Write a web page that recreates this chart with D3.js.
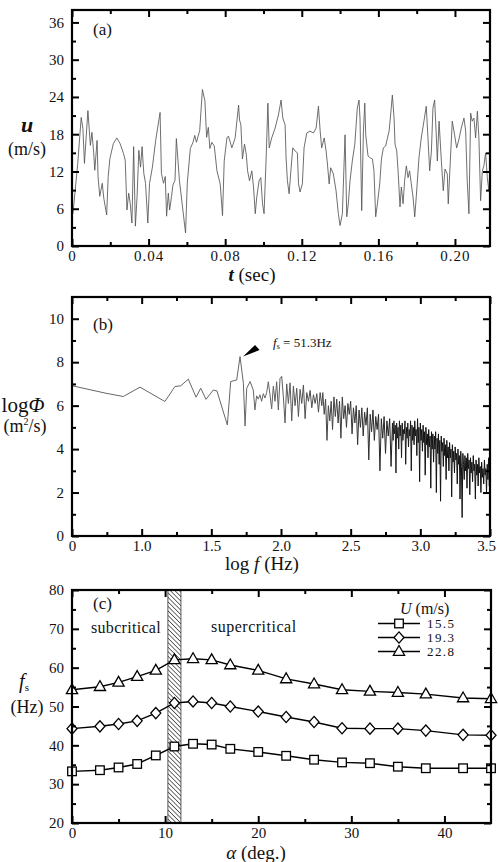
<!DOCTYPE html>
<html><head><meta charset="utf-8">
<script src="https://cdn.jsdelivr.net/npm/d3@7"></script>
<style>
body{margin:0;background:#fff;}
svg text{font-family:"Liberation Serif","Times New Roman",serif;fill:#111;}
</style></head><body>
<svg id="chart" width="498" height="862"></svg>
<script>
// ---------- DATA ----------
// (a) streamwise velocity time history [t (sec), u (m/s)]
const velocitySeries = [[0.0005,5.2],[0.003,13.3],[0.0048,20.7],[0.0057,18.9],[0.0065,13.3],[0.0083,21.8],[0.0096,16.2],[0.0104,18.3],[0.0113,15.1],[0.0119,12.2],[0.0131,17.0],[0.0136,11.2],[0.0145,8.0],[0.0158,10.1],[0.0166,7.7],[0.0181,5.0],[0.0189,11.2],[0.0198,14.1],[0.0216,16.5],[0.0234,17.4],[0.0251,16.5],[0.0269,14.9],[0.0278,13.8],[0.0287,5.8],[0.0296,8.5],[0.0304,6.9],[0.0313,3.7],[0.0322,16.0],[0.0331,3.2],[0.034,8.0],[0.0349,15.4],[0.0358,12.7],[0.0366,16.0],[0.0375,11.7],[0.0384,10.1],[0.0396,3.7],[0.0405,10.1],[0.042,12.7],[0.0437,17.0],[0.046,21.5],[0.0467,11.7],[0.0478,10.1],[0.0487,11.2],[0.0494,4.8],[0.0503,8.5],[0.051,5.8],[0.052,8.0],[0.0527,9.8],[0.0538,10.6],[0.0545,17.3],[0.0561,10.6],[0.0579,5.8],[0.0593,2.1],[0.0602,10.1],[0.0618,15.7],[0.0632,16.7],[0.0641,17.8],[0.065,16.7],[0.0667,18.6],[0.0681,25.2],[0.0694,23.4],[0.0703,17.5],[0.0712,19.1],[0.072,15.7],[0.073,16.7],[0.0743,16.1],[0.0757,12.1],[0.0774,10.0],[0.0786,4.9],[0.0795,13.7],[0.0809,17.4],[0.0817,17.7],[0.0835,15.8],[0.0852,17.4],[0.087,22.7],[0.0875,20.3],[0.0882,19.5],[0.089,14.0],[0.0901,16.4],[0.091,14.8],[0.0917,12.1],[0.0927,10.5],[0.0939,12.1],[0.0948,9.5],[0.0957,5.2],[0.0965,7.9],[0.0977,10.5],[0.0986,11.0],[0.0995,6.8],[0.1003,5.2],[0.1014,14.2],[0.1023,23.0],[0.103,15.8],[0.1043,17.4],[0.1061,19.0],[0.1078,21.1],[0.1092,23.5],[0.1101,20.6],[0.1113,19.5],[0.1118,14.2],[0.1125,10.5],[0.1134,8.4],[0.1143,12.1],[0.1153,15.8],[0.1165,15.3],[0.1177,15.0],[0.1183,10.0],[0.1191,8.7],[0.1203,10.0],[0.1212,15.8],[0.1226,18.2],[0.1243,18.5],[0.1261,18.2],[0.1275,19.0],[0.1287,22.5],[0.1296,18.5],[0.1304,15.8],[0.1317,17.4],[0.1327,15.3],[0.1334,13.2],[0.1343,10.0],[0.1351,12.6],[0.1365,11.6],[0.1379,8.9],[0.1391,5.2],[0.14,3.3],[0.1412,5.2],[0.1426,17.9],[0.1435,4.7],[0.1443,6.8],[0.1452,10.5],[0.1464,13.7],[0.1477,16.4],[0.149,22.2],[0.1499,23.5],[0.1504,20.6],[0.1513,5.7],[0.1522,18.5],[0.1529,23.0],[0.1534,17.9],[0.1546,14.5],[0.1557,14.2],[0.1569,14.0],[0.1577,12.1],[0.1586,4.7],[0.1595,6.8],[0.1607,10.0],[0.1616,14.0],[0.1626,15.8],[0.1638,16.1],[0.1656,18.5],[0.1664,21.1],[0.1673,24.3],[0.1682,20.6],[0.1687,16.4],[0.1696,15.3],[0.1703,12.1],[0.1713,6.3],[0.172,9.5],[0.1729,6.8],[0.1737,10.5],[0.1746,12.9],[0.1755,11.0],[0.1763,12.1],[0.1772,10.0],[0.1781,7.9],[0.179,4.7],[0.1798,7.9],[0.1812,14.2],[0.1824,17.4],[0.1838,20.1],[0.185,22.5],[0.1859,17.4],[0.1868,12.1],[0.1877,15.3],[0.1885,22.2],[0.1894,23.5],[0.1903,17.4],[0.1908,13.7],[0.1917,20.1],[0.1929,13.7],[0.1939,8.9],[0.1948,12.4],[0.196,11.6],[0.1965,6.8],[0.1974,12.6],[0.1986,20.1],[0.1998,17.9],[0.2009,15.8],[0.2021,17.2],[0.2033,19.0],[0.2047,20.6],[0.2056,18.5],[0.2064,10.5],[0.2073,5.2],[0.2082,21.4],[0.209,20.1],[0.2099,20.6],[0.2108,17.4],[0.2117,21.7],[0.2125,17.4],[0.2134,7.3],[0.2143,12.1],[0.2151,12.9],[0.216,15.0],[0.2169,11.0],[0.2177,8.9],[0.2183,12.6]];

// (b) power spectrum [log f, log Phi]
const spectrumSeries = [[0.505,6.91],[0.744,6.57],[0.868,6.42],[0.988,6.85],[1.167,6.19],[1.239,6.88],[1.28,6.91],[1.335,7.22],[1.39,6.39],[1.424,6.8],[1.462,6.29],[1.514,6.72],[1.54,6.68],[1.615,5.11],[1.639,7.11],[1.682,7.18],[1.706,8.26],[1.73,7.03],[1.742,5.06],[1.754,6.8],[1.778,7.11],[1.801,6.72],[1.813,5.8],
[1.825,6.45],[1.837,6.3],[1.849,6.5],[1.861,6.2],[1.873,6.55],[1.885,6.35],[1.897,6.6],[1.909,7.1],[1.921,6.5],[1.933,5.85],[1.945,6.9],[1.957,6.2],[1.969,7.1],[1.981,5.8],[1.993,7.25],[2.005,7.35],[2.017,6.4],[2.029,5.2],[2.041,7.0],[2.053,6.1],[2.065,7.05],[2.077,5.3],[2.089,6.9],[2.101,6.0],[2.113,6.8],[2.125,5.5],[2.137,6.75],[2.149,6.1],[2.161,6.95],[2.173,5.4],[2.185,6.6],[2.197,6.2],[2.209,6.7],[2.221,5.9],[2.233,6.5],[2.245,6.1],[2.257,6.55],[2.269,5.7],[2.281,6.6],[2.293,6.0],
[2.30,6.6],[2.31,5.6],[2.32,6.3],[2.33,4.4],[2.34,6.0],[2.35,5.3],[2.36,6.2],[2.37,4.9],[2.38,6.4],[2.39,5.5],[2.40,6.3],[2.41,5.2],[2.42,6.2],[2.43,4.5],[2.44,6.4],[2.45,5.4],[2.46,6.0],[2.47,5.0],[2.48,6.1],[2.49,5.6],[2.50,6.2],[2.51,4.7],[2.52,5.9],[2.53,5.2],[2.54,6.0],[2.55,4.2],[2.56,5.8],[2.57,5.0],[2.58,5.9],[2.59,4.6],[2.60,5.7],[2.61,5.1],[2.62,5.9],[2.63,3.5],[2.64,5.6],[2.65,4.8],[2.66,5.8],[2.67,4.4],[2.68,5.5],[2.69,4.9],[2.70,5.6],[2.71,3.0],[2.72,5.4],[2.73,4.5],[2.74,5.5],[2.75,3.8],[2.76,5.3],[2.77,4.6],[2.78,5.4],[2.79,3.2],[2.80,5.2],
[2.805,4.4],[2.81,5.3],[2.815,4.7],[2.82,5.1],[2.825,2.9],[2.83,5.2],[2.835,4.5],[2.84,5.0],[2.845,4.0],[2.85,5.3],
[2.855,4.6],[2.86,5.1],[2.865,3.6],[2.87,5.2],[2.875,4.4],[2.88,4.9],[2.885,4.7],[2.89,5.3],[2.895,3.3],[2.90,5.0],
[2.905,4.5],[2.91,5.2],[2.915,4.1],[2.92,4.9],[2.925,4.6],[2.93,5.3],[2.935,3.0],[2.94,5.1],[2.945,4.4],[2.95,5.0],
[2.955,4.2],[2.96,5.3],[2.965,4.6],[2.97,4.9],[2.975,3.7],[2.98,5.4],[2.985,4.3],[2.99,5.0],[2.995,2.5],[3.00,5.2],
[3.005,4.4],[3.01,4.9],[3.015,3.9],[3.02,5.1],[3.025,4.3],[3.03,4.8],[3.035,2.8],[3.04,5.0],[3.045,4.2],[3.05,4.7],
[3.055,3.6],[3.06,4.9],[3.065,4.1],[3.07,4.6],[3.075,2.2],[3.08,4.8],[3.085,4.0],[3.09,4.7],[3.095,3.4],[3.10,4.6],
[3.105,4.0],[3.11,4.8],[3.115,2.0],[3.12,4.5],[3.125,3.8],[3.13,4.7],[3.135,3.3],[3.14,4.4],[3.145,1.6],[3.15,4.6],
[3.155,3.9],[3.16,4.3],[3.165,3.2],[3.17,4.5],[3.175,3.7],[3.18,4.2],[3.185,2.6],[3.19,4.4],[3.195,3.6],[3.20,4.1],
[3.205,3.0],[3.21,4.3],[3.215,3.6],[3.22,4.0],[3.225,1.8],[3.23,4.2],[3.235,3.4],[3.24,3.9],[3.245,2.9],[3.25,4.1],
[3.255,3.5],[3.26,3.8],[3.265,2.4],[3.27,4.0],[3.275,3.3],[3.28,3.7],[3.285,1.7],[3.29,3.9],[3.295,3.2],[3.30,0.85],
[3.305,3.8],[3.31,3.3],[3.315,2.6],[3.32,3.7],[3.325,3.0],[3.33,3.6],[3.335,2.2],[3.34,3.8],[3.345,3.1],[3.35,3.5],
[3.355,1.9],[3.36,3.6],[3.365,2.9],[3.37,3.4],[3.375,2.5],[3.38,3.7],[3.385,3.0],[3.39,3.3],[3.395,1.7],[3.40,3.5],
[3.405,2.8],[3.41,3.3],[3.415,2.3],[3.42,3.6],[3.425,2.9],[3.43,3.2],[3.435,2.0],[3.44,3.4],[3.445,2.7],[3.45,3.1],
[3.455,2.4],[3.46,3.5],[3.465,2.8],[3.47,3.1],[3.475,2.0],[3.48,3.3],[3.485,2.6],[3.49,3.6],[3.495,2.3],[3.50,2.8]];
const spectrumPeak = {logF:1.706, logPhi:8.26, label:"51.3Hz"};

// (c) shedding frequency vs angle
const alphaDeg = [0,3,5,7,9,11,13,15,17,20,23,26,29,32,35,38,42,45];
const fsU155 = [33.3,33.6,34.3,35.2,37.4,39.7,40.4,40.2,39.1,38.3,37.3,36.3,35.6,35.4,34.5,34.1,34.1,34.1];
const fsU193 = [44.3,44.9,45.5,46.3,48.3,50.9,51.3,50.9,50.0,48.7,47.3,46.0,44.4,44.3,44.3,43.8,42.7,42.6];
const fsU228 = [54.3,55.1,56.2,57.7,59.3,62.0,62.3,62.0,60.7,59.3,57.1,55.8,54.3,53.9,53.6,53.2,52.2,52.0];
const legendLabels = ["15.5","19.3","22.8"];
const criticalBand = [10.3,11.7];

// tick values / labels
const aXTicks = [0,0.04,0.08,0.12,0.16,0.20], aXLabels = ["0","0.04","0.08","0.12","0.16","0.20"];
const aXMinor = [0.02,0.06,0.10,0.14,0.18];
const aYTicks = [0,6,12,18,24,30,36], aYMinor = [3,9,15,21,27,33];
const bXTicks = [0.5,1.0,1.5,2.0,2.5,3.0,3.5], bXLabels = ["0","1.0","1.5","2.0","2.5","3.0","3.5"];
const bXMinor = [0.75,1.25,1.75,2.25,2.75,3.25];
const bYTicks = [0,2,4,6,8,10], bYMinor = [1,3,5,7,9];
const cXTicks = [0,10,20,30,40], cXMinor = [5,15,25,35];
const cYTicks = [20,30,40,50,60,70,80], cYMinor = [25,35,45,55,65,75];

// ---------- DRAW ----------
const svg = d3.select("#chart");
const FONT = 15;

function frame(x, y, o){
  const [x0,x1] = x.range(), [y0,y1] = y.range();
  const g = svg.append("g");
  const style = (sel, w) => { sel.select(".domain").remove(); sel.selectAll("line").attr("stroke","#000").attr("stroke-width",w); };
  const bottom = g.append("g").attr("transform",`translate(0,${y0})`)
    .call(d3.axisBottom(x).tickValues(o.xt).tickFormat((d,i)=>o.xl?o.xl[i]:d).tickSize(-7).tickPadding(4))
    .call(s=>style(s,2)).call(s=>s.selectAll("text").attr("font-size",FONT).attr("fill","#111").attr("font-family","Liberation Serif").attr("letter-spacing",o.xls||0));
  if (o.lastDx) bottom.selectAll("text").filter((d,i,n)=>i===n.length-1).attr("dx",o.lastDx);
  g.append("g").attr("transform",`translate(0,${y0})`).call(d3.axisBottom(x).tickValues(o.xm).tickFormat("").tickSize(-4)).call(s=>style(s,2));
  g.append("g").attr("transform",`translate(0,${y1})`).call(d3.axisTop(x).tickValues(o.xt).tickFormat("").tickSize(-7)).call(s=>style(s,2));
  g.append("g").attr("transform",`translate(0,${y1})`).call(d3.axisTop(x).tickValues(o.xm).tickFormat("").tickSize(-4)).call(s=>style(s,2));
  g.append("g").attr("transform",`translate(${x0},0)`)
    .call(d3.axisLeft(y).tickValues(o.yt).tickFormat(d=>d).tickSize(-7).tickPadding(8))
    .call(s=>style(s,2)).call(s=>s.selectAll("text").attr("font-size",FONT).attr("fill","#111").attr("font-family","Liberation Serif"));
  g.append("g").attr("transform",`translate(${x0},0)`).call(d3.axisLeft(y).tickValues(o.ym).tickFormat("").tickSize(-4)).call(s=>style(s,2));
  g.append("g").attr("transform",`translate(${x1},0)`).call(d3.axisRight(y).tickValues(o.yt).tickFormat("").tickSize(-7)).call(s=>style(s,2));
  g.append("g").attr("transform",`translate(${x1},0)`).call(d3.axisRight(y).tickValues(o.ym).tickFormat("").tickSize(-4)).call(s=>style(s,2));
  g.append("rect").attr("x",x0).attr("y",y1).attr("width",x1-x0).attr("height",y0-y1)
    .attr("fill","none").attr("stroke","#000").attr("stroke-width",2.2);
}

function txt(x,y,size,parts,anchor){
  const t = svg.append("text").attr("x",x).attr("y",y).attr("font-size",size).attr("text-anchor",anchor||"start");
  parts.forEach(p=>{
    const ts = t.append("tspan").text(p.t);
    if(p.i) ts.attr("font-style","italic");
    if(p.b) ts.attr("font-weight","bold");
    if(p.s) ts.attr("font-size",p.s);
    if(p.dy) ts.attr("dy",p.dy);
  });
  return t;
}

// ---- Panel (a) ----
const xA = d3.scaleLinear().domain([0,0.2183]).range([72,490]);
const yA = d3.scaleLinear().domain([0,38]).range([246,10]);
svg.append("path").datum(velocitySeries)
  .attr("d", d3.line().x(d=>xA(d[0])).y(d=>yA(d[1])))
  .attr("fill","none").attr("stroke","#555").attr("stroke-width",0.85).attr("stroke-linejoin","round");
frame(xA,yA,{xt:aXTicks,xl:aXLabels,xm:aXMinor,yt:aYTicks,ym:aYMinor,xls:1});
txt(93,35,17,[{t:"(a)"}]);
txt(27,132,22,[{t:"u",i:1,b:1}],"middle");
txt(27,155,18,[{t:"(m/s)"}],"middle");
txt(252,281,19,[{t:"t",i:1,b:1},{t:" (sec)"}],"middle");

// ---- Panel (b) ----
const xB = d3.scaleLinear().domain([0.5,3.5]).range([72,490]);
const yB = d3.scaleLinear().domain([0,11]).range([536,297]);
const grad = svg.append("defs").append("linearGradient").attr("id","specGrad")
  .attr("gradientUnits","userSpaceOnUse").attr("x1",xB(1.9)).attr("x2",xB(3.0)).attr("y1",0).attr("y2",0);
grad.append("stop").attr("offset",0).attr("stop-color","#666");
grad.append("stop").attr("offset",1).attr("stop-color","#111");
svg.append("path").datum(spectrumSeries)
  .attr("d", d3.line().x(d=>xB(d[0])).y(d=>yB(d[1])))
  .attr("fill","none").attr("stroke","url(#specGrad)").attr("stroke-width",1).attr("stroke-linejoin","round");
frame(xB,yB,{xt:bXTicks,xl:bXLabels,xm:bXMinor,yt:bYTicks,ym:bYMinor,lastDx:-4});
txt(93,330,17,[{t:"(b)"}]);
txt(23,412,21,[{t:"log"},{t:"Φ",i:1}],"middle");
txt(25,432,18,[{t:"(m"},{t:"2",s:10,dy:-7},{t:"/s)",dy:7}],"middle");
txt(262,570,19,[{t:"log "},{t:"f",i:1},{t:" (Hz)"}],"middle");
{
  const px = xB(spectrumPeak.logF)+3, py = yB(spectrumPeak.logPhi);
  svg.append("path").attr("d",`M${px},${py} L${px+12},${py-11.5} L${px+16.5},${py-6.5} Z`).attr("fill","#000");
  txt(px+30,py-10,13,[{t:"f",i:1},{t:"s",s:8,dy:2},{t:" = ",dy:-2},{t:spectrumPeak.label}]);
}

// ---- Panel (c) ----
const xC = d3.scaleLinear().domain([0,45]).range([72,491]);
const yC = d3.scaleLinear().domain([20,80]).range([823,590]);
svg.select("defs").append("pattern").attr("id","hatch").attr("patternUnits","userSpaceOnUse")
  .attr("width",3.2).attr("height",3.2).attr("patternTransform","rotate(-45)")
  .append("line").attr("x1",0).attr("y1",0).attr("x2",0).attr("y2",3.2)
  .attr("stroke","#222").attr("stroke-width",1.3);
svg.append("rect").attr("x",xC(criticalBand[0])).attr("y",yC(80)).attr("width",xC(criticalBand[1])-xC(criticalBand[0]))
  .attr("height",yC(20)-yC(80)).attr("fill","url(#hatch)").attr("stroke","#333").attr("stroke-width",0.8);

const symbols = {
  square: (g,cx,cy)=>g.append("rect").attr("x",cx-4.3).attr("y",cy-4.3).attr("width",8.6).attr("height",8.6),
  diamond: (g,cx,cy)=>g.append("path").attr("d",`M${cx},${cy-5.6}L${cx+5},${cy}L${cx},${cy+5.6}L${cx-5},${cy}Z`),
  triangle: (g,cx,cy)=>g.append("path").attr("d",`M${cx},${cy-6}L${cx+5.6},${cy+3.8}L${cx-5.6},${cy+3.8}Z`)
};
const seriesC = [{v:fsU155,sym:"square"},{v:fsU193,sym:"diamond"},{v:fsU228,sym:"triangle"}];
const gC = svg.append("g");
seriesC.forEach(s=>{
  gC.append("path").datum(alphaDeg.map((a,i)=>[a,s.v[i]]))
    .attr("d",d3.line().x(d=>xC(d[0])).y(d=>yC(d[1])))
    .attr("fill","none").attr("stroke","#000").attr("stroke-width",1.4);
  alphaDeg.forEach((a,i)=>symbols[s.sym](gC,xC(a),yC(s.v[i])).attr("fill","#fff").attr("stroke","#000").attr("stroke-width",1.3));
});
frame(xC,yC,{xt:cXTicks,xm:cXMinor,yt:cYTicks,ym:cYMinor});
txt(93,609,17,[{t:"(c)"}]);
txt(91,633,16,[{t:"subcritical"}]).attr("letter-spacing",0.3);
txt(211,632,16,[{t:"supercritical"}]).attr("letter-spacing",0.5);
txt(400,614,16,[{t:"U",i:1},{t:" (m/s)"}]);
legendLabels.forEach((lab,i)=>{
  const cy = 623.5 + i*14;
  svg.append("line").attr("x1",378).attr("x2",420).attr("y1",cy).attr("y2",cy).attr("stroke","#000").attr("stroke-width",1.4);
  symbols[seriesC[i].sym](svg,399,cy).attr("fill","#fff").attr("stroke","#000").attr("stroke-width",1.3);
  txt(427,cy+4.5,13,[{t:lab}]).attr("letter-spacing",1.4);
});
txt(24,688,20,[{t:"f",i:1},{t:"s",s:11,dy:3}],"middle");
txt(27,713,18,[{t:"(Hz)"}],"middle");
txt(256,859,19,[{t:"α",i:1},{t:" (deg.)"}],"middle");
</script>
</body></html>
